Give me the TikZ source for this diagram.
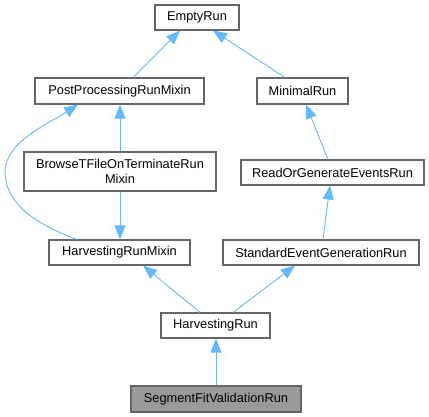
\documentclass[tikz,border=0pt]{standalone}
\usepackage{fontspec}
\setmainfont{Liberation Sans}
\usetikzlibrary{arrows.meta}
\definecolor{edgeblue}{HTML}{63B8FF}
\definecolor{boxborder}{HTML}{666666}
\definecolor{curfill}{HTML}{999999}
\tikzset{
  cls/.style={draw=boxborder, line width=1.1pt, fill=white, inner sep=0pt,
    minimum height=25pt, align=center,
    font=\fontsize{12.8}{15}\selectfont},
  curcls/.style={cls, fill=curfill},
  inh/.style={draw=edgeblue, line width=0.9pt,
    {Triangle[length=14pt,width=11pt]}-},
}
\begin{document}
\begin{tikzpicture}[x=1pt,y=-1pt]
\useasboundingbox (0,0) rectangle (429,417);
\node[cls, minimum width=84pt] (empty) at (197,17.5) {EmptyRun};
\node[cls, minimum width=169pt, minimum height=26pt] (pp) at (119.5,91) {PostProcessingRunMixin};
\node[cls, minimum width=91pt, minimum height=26pt] (min) at (302.5,91) {MinimalRun};
\node[cls, minimum width=192pt, minimum height=39pt] (browse) at (120,171.5) {BrowseTFileOnTerminateRun\\Mixin};
\node[cls, minimum width=183pt] (rog) at (332.5,172.5) {ReadOrGenerateEventsRun};
\node[cls, minimum width=141pt] (hrm) at (119.5,252.5) {HarvestingRunMixin};
\node[cls, minimum width=196pt] (seg) at (321,252.5) {StandardEventGenerationRun};
\node[cls, minimum width=109pt] (hr) at (215.5,325.5) {HarvestingRun};
\node[curcls, minimum width=170pt, minimum height=26pt] (sfv) at (216,399) {SegmentFitValidationRun};

\draw[inh] ([xshift=-17pt]empty.south) -- ([xshift=13.5pt]pp.north);
\draw[inh] ([xshift=16pt]empty.south) -- ([xshift=-17.5pt]min.north);
\draw[inh] (browse.north |- pp.south) -- (browse.north);
\draw[inh] ([xshift=3.5pt]min.south) -- ([xshift=-4.5pt]rog.north);
\draw[inh] (hrm.north -| browse.south) -- (browse.south);
\draw[inh] ([xshift=-41.5pt]pp.south) .. controls (48,124) and (5,142) .. (5,172)
  .. controls (5,203) and (35,224) .. ([xshift=-42.5pt]hrm.north);
\draw[inh] ([xshift=-2.5pt]rog.south) -- ([xshift=2pt]seg.north);
\draw[inh] ([xshift=23.5pt]hrm.south) -- ([xshift=-15.5pt]hr.north);
\draw[inh] ([xshift=-26pt]seg.south) -- ([xshift=17.5pt]hr.north);
\draw[inh] (sfv.north |- hr.south) -- (sfv.north);
\end{tikzpicture}
\end{document}
